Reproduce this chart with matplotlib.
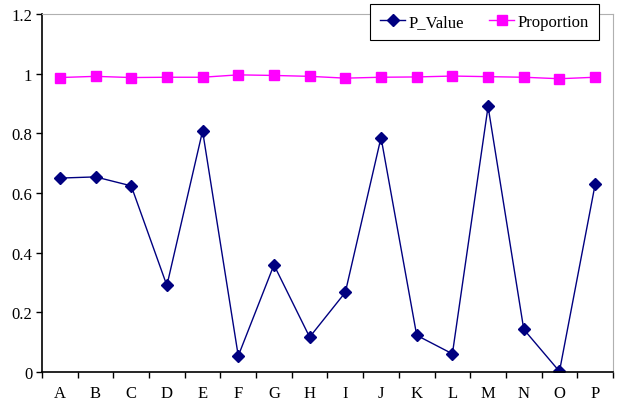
import matplotlib.pyplot as plt

plt.rcParams['font.family'] = ['Liberation Serif', 'DejaVu Serif']

categories = ['A', 'B', 'C', 'D', 'E', 'F', 'G', 'H',
              'I', 'J', 'K', 'L', 'M', 'N', 'O', 'P']
p_value = [0.650, 0.654, 0.624, 0.290, 0.808, 0.054, 0.359, 0.117,
           0.267, 0.786, 0.123, 0.061, 0.890, 0.143, 0.002, 0.629]
proportion = [0.987, 0.991, 0.987, 0.988, 0.988, 0.996, 0.994, 0.991,
              0.985, 0.988, 0.989, 0.992, 0.990, 0.988, 0.983, 0.988]
y_ticks = [0, 0.2, 0.4, 0.6, 0.8, 1, 1.2]
y_tick_labels = ['0', '0.2', '0.4', '0.6', '0.8', '1', '1.2']

fig = plt.figure(figsize=(6.21, 4.02), dpi=100)
ax = fig.add_axes([0.0676, 0.0721, 0.9195, 0.8906])

x = list(range(len(categories)))
ax.plot(x, p_value, color='#000080', lw=1, marker='D', ms=6,
        markeredgecolor='#000080', label='P_Value')
ax.plot(x, proportion, color='#FF00FF', lw=1, marker='s', ms=7,
        markeredgecolor='#FF00FF', label='Proportion')

ax.set_xlim(-0.5, len(categories) - 0.5)
ax.set_ylim(0, 1.2)
ax.set_yticks(y_ticks)
ax.set_yticklabels(y_tick_labels)

# category labels centred, tick marks on the boundaries
ax.set_xticks(x)
ax.set_xticklabels(categories)
ax.set_xticks([i - 0.5 for i in range(len(categories) + 1)], minor=True)
ax.tick_params(axis='x', which='major', length=0, pad=9)
ax.tick_params(axis='x', which='minor', length=4, width=1, direction='out')
ax.tick_params(axis='y', length=4, width=1, direction='out', pad=3)
ax.tick_params(labelsize=12)

ax.spines['left'].set_color('black')
ax.spines['bottom'].set_color('black')
ax.spines['left'].set_linewidth(1.2)
ax.spines['bottom'].set_linewidth(1.2)
ax.spines['top'].set_color('#B0B0B0')
ax.spines['right'].set_color('#B0B0B0')

leg = ax.legend(loc='upper right', bbox_to_anchor=(0.975, 1.028), ncol=2,
                fancybox=False, framealpha=1, edgecolor='black',
                fontsize=12, handlelength=1.5, handletextpad=0.2,
                columnspacing=1.5, borderpad=0.6, borderaxespad=0)
leg.get_frame().set_linewidth(0.8)

fig.savefig('out.png', dpi=100)
